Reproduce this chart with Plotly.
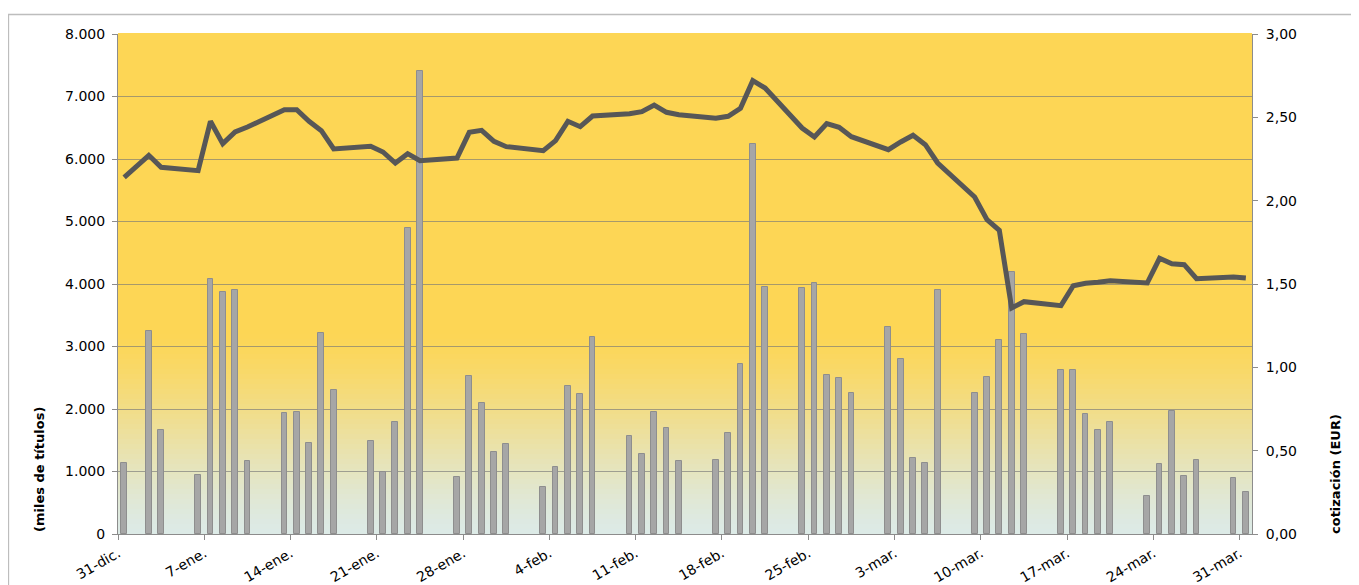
import plotly.graph_objects as go
import pandas as pd

# ---- data ----
trading_days = [
    "2019-12-31", "2020-01-02", "2020-01-03",
    "2020-01-06", "2020-01-07", "2020-01-08", "2020-01-09", "2020-01-10",
    "2020-01-13", "2020-01-14", "2020-01-15", "2020-01-16", "2020-01-17",
    "2020-01-20", "2020-01-21", "2020-01-22", "2020-01-23", "2020-01-24",
    "2020-01-27", "2020-01-28", "2020-01-29", "2020-01-30", "2020-01-31",
    "2020-02-03", "2020-02-04", "2020-02-05", "2020-02-06", "2020-02-07",
    "2020-02-10", "2020-02-11", "2020-02-12", "2020-02-13", "2020-02-14",
    "2020-02-17", "2020-02-18", "2020-02-19", "2020-02-20", "2020-02-21",
    "2020-02-24", "2020-02-25", "2020-02-26", "2020-02-27", "2020-02-28",
    "2020-03-02", "2020-03-03", "2020-03-04", "2020-03-05", "2020-03-06",
    "2020-03-09", "2020-03-10", "2020-03-11", "2020-03-12", "2020-03-13",
    "2020-03-16", "2020-03-17", "2020-03-18", "2020-03-19", "2020-03-20",
    "2020-03-23", "2020-03-24", "2020-03-25", "2020-03-26", "2020-03-27",
    "2020-03-30", "2020-03-31",
]

volumen_miles = [
    1140, 3250, 1665,
    945, 4085, 3870, 3905, 1170,
    1935, 1950, 1455, 3215, 2305,
    1490, 1000, 1785, 4895, 7415,
    905, 2530, 2090, 1310, 1440,
    750, 1065, 2370, 2245, 3160,
    1570, 1280, 1950, 1695, 1170,
    1180, 1615, 2715, 6240, 3960,
    3940, 4015, 2545, 2495, 2255,
    3320, 2800, 1215, 1140, 3905,
    2255, 2520, 3100, 4185, 3200,
    2630, 2625, 1925, 1670, 1790,
    610, 1125, 1970, 925, 1180,
    890, 665,
]

cotizacion_eur = [
    2.140, 2.272, 2.200,
    2.180, 2.476, 2.342, 2.412, 2.442,
    2.546, 2.546, 2.476, 2.420, 2.310,
    2.326, 2.292, 2.226, 2.282, 2.240,
    2.256, 2.410, 2.422, 2.356, 2.324,
    2.300, 2.360, 2.476, 2.444, 2.508,
    2.522, 2.534, 2.574, 2.530, 2.516,
    2.494, 2.506, 2.554, 2.720, 2.676,
    2.436, 2.382, 2.462, 2.440, 2.384,
    2.306, 2.352, 2.392, 2.336, 2.226,
    2.022, 1.886, 1.822, 1.356, 1.394,
    1.370, 1.490, 1.504, 1.510, 1.520,
    1.506, 1.654, 1.622, 1.616, 1.532,
    1.542, 1.536,
]

tick_dates = [
    "2019-12-31", "2020-01-07", "2020-01-14", "2020-01-21", "2020-01-28",
    "2020-02-04", "2020-02-11", "2020-02-18", "2020-02-25", "2020-03-03",
    "2020-03-10", "2020-03-17", "2020-03-24", "2020-03-31",
]
tick_labels = [
    "31-dic.", "7-ene.", "14-ene.", "21-ene.", "28-ene.",
    "4-feb.", "11-feb.", "18-feb.", "25-feb.", "3-mar.",
    "10-mar.", "17-mar.", "24-mar.", "31-mar.",
]

left_ticks = [0, 1000, 2000, 3000, 4000, 5000, 6000, 7000, 8000]
right_ticks = [0, 0.5, 1.0, 1.5, 2.0, 2.5, 3.0]

# ---- figure ----
x_mid = pd.to_datetime(trading_days) + pd.Timedelta(hours=12)
bar_width_ms = 0.47 * 86400000

FONT = "DejaVu Sans"
W, H = 1351, 577          # page body has an 8px margin
ML, MR, MT, MB = 110, 107, 26, 51
PW, PH = W - ML - MR, H - MT - MB


def px_x(px):  # page pixel -> paper x
    return (px - 8 - ML) / PW


def px_y(py):  # page pixel -> paper y
    return (H - MB - (py - 8)) / PH


fig = go.Figure()
fig.add_trace(go.Bar(
    x=x_mid, y=volumen_miles, width=bar_width_ms,
    marker=dict(color="#a6a6a6", line=dict(color="#8e8e8e", width=1)),
    name="volumen", yaxis="y",
))
fig.add_trace(go.Scatter(
    x=x_mid, y=cotizacion_eur, mode="lines",
    line=dict(color="#575757", width=5),
    name="cotización", yaxis="y2",
))

# gradient background (style only)
shapes = []
n = 100
top_col = (253, 214, 85)
bot_col = (220, 234, 231)
start = 0.40
for i in range(n):
    y0 = i / n
    y1 = (i + 1) / n
    yc = (y0 + y1) / 2
    if yc >= start:
        c = top_col
    else:
        u = (start - yc) / start
        t = u * u * (3 - 2 * u) * 0.5 + u * 0.5
        c = tuple(int(round(top_col[k] + (bot_col[k] - top_col[k]) * t)) for k in range(3))
    shapes.append(dict(type="rect", xref="paper", yref="paper", x0=0, x1=1,
                       y0=y0, y1=y1 + 0.002, layer="below",
                       fillcolor="rgb(%d,%d,%d)" % c, line=dict(width=0)))
# outer chart border
shapes.append(dict(type="rect", xref="paper", yref="paper",
                   x0=px_x(8.5), x1=px_x(1400), y0=px_y(640), y1=px_y(14.5),
                   line=dict(color="#bdbdbd", width=1.3), layer="below"))

fig.update_layout(
    width=W, height=H,
    margin=dict(l=ML, r=MR, t=MT, b=MB, autoexpand=False),
    paper_bgcolor="white",
    plot_bgcolor="rgba(0,0,0,0)",
    separators=",.",
    showlegend=False,
    bargap=0,
    font=dict(family=FONT, size=14, color="#000000"),
    shapes=shapes,
    xaxis=dict(
        type="date",
        range=["2019-12-31", "2020-04-01"],
        tickvals=tick_dates, ticktext=tick_labels,
        tickangle=-30,
        ticks="outside", ticklen=5, tickcolor="#8c8c8c",
        showline=True, linecolor="#8c8c8c", linewidth=1,
        showgrid=False, zeroline=False, automargin=False,
        tickfont=dict(family=FONT, size=14),
    ),
    yaxis=dict(
        range=[0, 8000], tickvals=left_ticks, tickformat=",d",
        ticks="outside", ticklen=5, tickcolor="#8c8c8c",
        showline=True, linecolor="#8c8c8c", linewidth=1,
        showgrid=True, gridcolor="rgba(120,120,120,0.65)", gridwidth=1,
        zeroline=False, automargin=False, ticklabelstandoff=4,
        tickfont=dict(family=FONT, size=14),
    ),
    yaxis2=dict(
        range=[0, 3], tickvals=right_ticks, tickformat=".2f",
        overlaying="y", side="right",
        ticks="outside", ticklen=5, tickcolor="#8c8c8c",
        showline=True, linecolor="#8c8c8c", linewidth=1,
        showgrid=False, zeroline=False, automargin=False, ticklabelstandoff=5,
        tickfont=dict(family=FONT, size=14),
    ),
    annotations=[
        dict(text="<b>(miles de títulos)</b>", textangle=-90,
             xref="paper", yref="paper", x=px_x(39), y=px_y(470),
             xanchor="center", yanchor="middle",
             showarrow=False, font=dict(family=FONT, size=13)),
        dict(text="<b>cotización (EUR)</b>", textangle=-90,
             xref="paper", yref="paper", x=px_x(1335), y=px_y(474),
             xanchor="center", yanchor="middle",
             showarrow=False, font=dict(family=FONT, size=13)),
    ],
)

fig.write_html("out.html")
